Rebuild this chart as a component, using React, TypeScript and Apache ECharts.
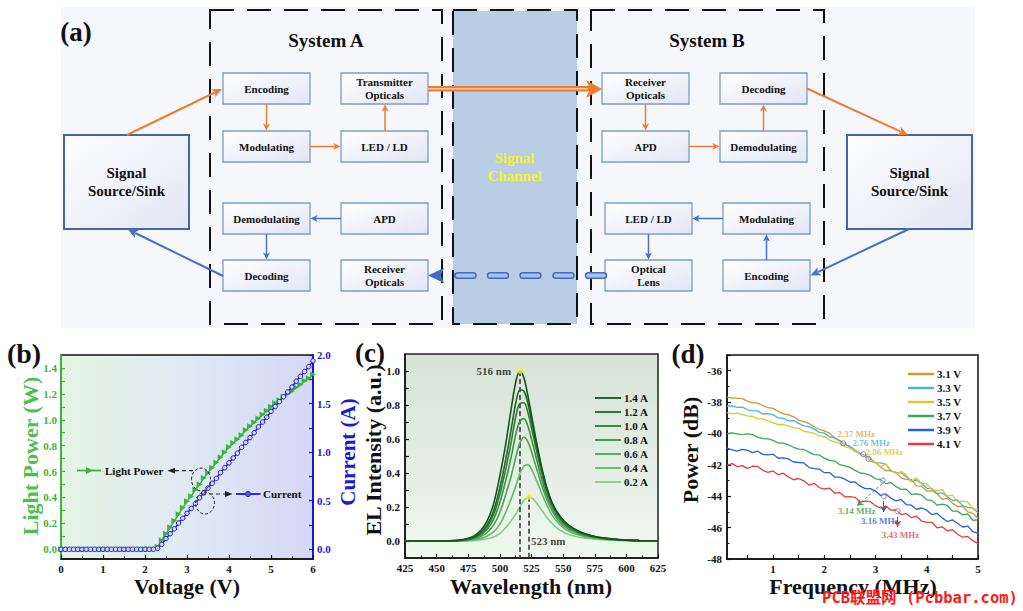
import React, { useEffect, useRef } from "react";
import * as echarts from "echarts";

const FONT = '"Liberation Serif", "Times New Roman", serif';

// ---------- panel (b) data ----------
const VOLT = [0,0.1,0.2,0.3,0.4,0.5,0.6,0.7,0.8,0.9,1.0,1.1,1.2,1.3,1.4,1.5,1.6,1.7,1.8,1.9,2.0,2.1,2.2,2.3,2.4,2.5,2.6,2.7,2.8,2.9,3.0,3.1,3.2,3.3,3.4,3.5,3.6,3.7,3.8,3.9,4.0,4.1,4.2,4.3,4.4,4.5,4.6,4.7,4.8,4.9,5.0,5.1,5.2,5.3,5.4,5.5,5.6,5.7,5.8,5.9,6.0];
const LIGHT_POWER = [0,0,0,0,0,0,0,0,0,0,0,0,0,0,0,0,0,0,0,0,0,0,0,0.02,0.07,0.12,0.17,0.22,0.27,0.32,0.37,0.41,0.46,0.50,0.55,0.59,0.63,0.67,0.71,0.75,0.79,0.82,0.85,0.88,0.92,0.95,0.98,1.01,1.04,1.07,1.10,1.13,1.15,1.18,1.20,1.22,1.25,1.27,1.30,1.32,1.35];
const CURRENT = [0,0,0,0,0,0,0,0,0,0,0,0,0,0,0,0,0,0,0,0,0,0,0,0.01,0.05,0.11,0.16,0.21,0.27,0.32,0.37,0.42,0.47,0.53,0.58,0.63,0.68,0.73,0.79,0.84,0.89,0.94,0.99,1.05,1.10,1.15,1.20,1.26,1.31,1.36,1.42,1.47,1.52,1.57,1.62,1.67,1.73,1.78,1.83,1.88,1.94];
const B_LEFT_LABELS = [0,0.2,0.4,0.6,0.8,1.0,1.2,1.4];
const B_LEFT_TICKS = [0,0.1,0.2,0.3,0.4,0.5,0.6,0.7,0.8,0.9,1.0,1.1,1.2,1.3,1.4];
const B_RIGHT_LABELS = [0,0.5,1.0,1.5,2.0];
const B_RIGHT_TICKS = [0,0.25,0.5,0.75,1.0,1.25,1.5,1.75,2.0];

// ---------- panel (c) data ----------
const WL = [425,440,455,465,470,475,480,485,490,495,500,505,509,513,516,519,522,525,529,533,537,541,545,550,555,560,565,570,575,580,590,600,610,625];
const C_NAMES = ["1.4 A","1.2 A","1.0 A","0.8 A","0.6 A","0.4 A","0.2 A"];
const EL_14 = [0,0,0,0.003,0.007,0.016,0.032,0.063,0.118,0.218,0.384,0.588,0.78,0.95,1.0,0.96,0.86,0.74,0.58,0.436,0.318,0.23,0.174,0.124,0.091,0.067,0.049,0.036,0.027,0.02,0.011,0.005,0.002,0];
const EL_12 = [0,0,0,0.002,0.005,0.013,0.025,0.051,0.096,0.177,0.315,0.494,0.66,0.828,0.89,0.881,0.815,0.706,0.561,0.424,0.308,0.228,0.17,0.12,0.088,0.065,0.048,0.035,0.026,0.019,0.01,0.005,0.002,0];
const EL_10 = [0,0,0,0.002,0.005,0.011,0.022,0.043,0.083,0.154,0.274,0.436,0.585,0.747,0.81,0.813,0.76,0.664,0.531,0.402,0.295,0.218,0.162,0.114,0.083,0.061,0.045,0.033,0.025,0.018,0.01,0.005,0.002,0];
const EL_08 = [0,0,0,0.001,0.004,0.009,0.018,0.036,0.069,0.127,0.227,0.368,0.496,0.642,0.706,0.72,0.679,0.599,0.482,0.365,0.269,0.2,0.147,0.104,0.075,0.056,0.041,0.03,0.022,0.017,0.009,0.005,0.002,0];
const EL_06 = [0,0,0,0.001,0.002,0.006,0.013,0.026,0.05,0.093,0.168,0.282,0.384,0.506,0.58,0.61,0.586,0.525,0.427,0.329,0.246,0.181,0.132,0.092,0.066,0.049,0.036,0.027,0.02,0.015,0.007,0.004,0.002,0];
const EL_04 = [0,0,0,0,0.001,0.003,0.007,0.015,0.029,0.054,0.099,0.175,0.248,0.332,0.4,0.44,0.449,0.423,0.355,0.282,0.213,0.155,0.115,0.079,0.056,0.041,0.03,0.022,0.016,0.012,0.006,0.003,0.001,0];
const EL_02 = [0,0,0,0,0,0.001,0.003,0.007,0.013,0.024,0.045,0.081,0.12,0.164,0.203,0.238,0.256,0.253,0.224,0.182,0.14,0.105,0.077,0.053,0.037,0.027,0.02,0.015,0.011,0.008,0.004,0.002,0.001,0];
const EL_ALL = [EL_14, EL_12, EL_10, EL_08, EL_06, EL_04, EL_02];
const C_COLORS = ["#15521f","#21672c","#2c7c38","#3a9145","#4ca454","#64b868","#86cd86"];
const C_Y_LABELS = [0,0.2,0.4,0.6,0.8,1.0];
const C_Y_TICKS = [0,0.1,0.2,0.3,0.4,0.5,0.6,0.7,0.8,0.9,1.0];

// ---------- panel (d) data ----------
const FREQ = [0.1,0.2,0.3,0.4,0.5,0.6,0.7,0.8,0.9,1.0,1.1,1.2,1.3,1.4,1.5,1.6,1.7,1.8,1.9,2.0,2.1,2.2,2.3,2.4,2.5,2.6,2.7,2.8,2.9,3.0,3.1,3.2,3.3,3.4,3.5,3.6,3.7,3.8,3.9,4.0,4.1,4.2,4.3,4.4,4.5,4.6,4.7,4.8,4.9,5.0];
const D_NAMES = ["3.1 V","3.3 V","3.5 V","3.7 V","3.9 V","4.1 V"];
const P_31 = [-37.68,-37.75,-37.75,-37.78,-37.94,-38.04,-38.07,-38.22,-38.36,-38.40,-38.59,-38.75,-38.82,-38.94,-39.15,-39.24,-39.36,-39.57,-39.73,-39.83,-39.98,-40.26,-40.45,-40.63,-40.90,-41.15,-41.26,-41.49,-41.75,-41.87,-42.14,-42.38,-42.36,-42.48,-42.83,-42.94,-42.94,-43.34,-43.36,-43.68,-43.65,-43.84,-44.20,-44.13,-44.44,-44.66,-44.64,-45.00,-45.10,-45.40];
const P_33 = [-38.25,-38.24,-38.34,-38.32,-38.49,-38.55,-38.56,-38.76,-38.74,-38.81,-39.01,-39.03,-39.20,-39.18,-39.36,-39.52,-39.56,-39.71,-39.93,-39.98,-40.21,-40.28,-40.50,-40.71,-40.80,-41.06,-41.28,-41.38,-41.59,-41.86,-41.87,-41.97,-42.40,-42.50,-42.51,-42.76,-43.07,-42.96,-43.21,-43.49,-43.50,-43.84,-43.79,-44.04,-44.26,-44.24,-44.61,-44.71,-44.75,-45.06];
const P_35 = [-38.67,-38.74,-38.71,-38.80,-38.88,-38.92,-39.07,-39.07,-39.20,-39.32,-39.43,-39.43,-39.52,-39.65,-39.66,-39.87,-39.91,-40.00,-40.16,-40.20,-40.42,-40.54,-40.63,-40.85,-40.93,-41.07,-41.36,-41.48,-41.69,-41.82,-42.11,-41.95,-42.33,-42.56,-42.43,-42.64,-43.03,-42.85,-43.18,-43.21,-43.57,-43.66,-43.57,-43.99,-43.93,-44.36,-44.31,-44.38,-44.81,-44.82];
const P_37 = [-40.03,-39.96,-40.02,-40.08,-40.03,-40.07,-40.23,-40.33,-40.34,-40.44,-40.61,-40.61,-40.73,-40.88,-41.00,-41.02,-41.19,-41.35,-41.37,-41.57,-41.71,-41.76,-41.99,-42.06,-42.16,-42.35,-42.52,-42.56,-42.67,-42.89,-42.94,-43.21,-43.12,-43.39,-43.56,-43.55,-43.88,-43.85,-43.92,-44.23,-44.27,-44.57,-44.51,-44.59,-44.95,-44.95,-45.19,-45.13,-45.53,-45.51];
const P_39 = [-40.94,-41.05,-41.12,-41.02,-41.08,-41.22,-41.13,-41.33,-41.36,-41.32,-41.58,-41.55,-41.62,-41.82,-41.85,-41.88,-42.17,-42.24,-42.27,-42.50,-42.49,-42.78,-42.78,-42.91,-43.11,-43.09,-43.36,-43.52,-43.51,-43.67,-43.95,-43.86,-44.13,-44.30,-44.21,-44.53,-44.57,-44.83,-44.75,-44.89,-45.18,-45.09,-45.38,-45.61,-45.50,-45.72,-45.96,-45.90,-46.26,-46.36];
const P_41 = [-42.04,-41.92,-42.11,-42.05,-42.22,-42.09,-42.10,-42.35,-42.48,-42.39,-42.63,-42.53,-42.77,-42.95,-42.87,-43.02,-43.29,-43.18,-43.45,-43.54,-43.49,-43.80,-43.77,-44.04,-44.03,-44.07,-44.37,-44.31,-44.35,-44.61,-44.75,-44.63,-44.89,-44.87,-45.17,-45.11,-45.37,-45.27,-45.59,-45.67,-45.67,-46.01,-45.95,-46.21,-46.13,-46.42,-46.61,-46.56,-46.83,-47.02];
const P_ALL = [P_31, P_33, P_35, P_37, P_39, P_41];
const D_COLORS = ["#c99a3a","#45b8d5","#e3c42d","#3aa85c","#2564d0","#de4040"];
const CUTOFF_F = [2.37, 2.76, 2.86, 3.14, 3.16, 3.43];
const CUTOFF_P = [-40.63, -41.32, -41.62, -43.0, -44.0, -44.95];
const CUTOFF_LABELS = ["2.37 MHz","2.76 MHz","2.86 MHz","3.14 MHz","3.16 MHz","3.43 MHz"];
const CUTOFF_COLORS = ["#d4a64a","#46b6d6","#dcc030","#3a9a5a","#2463c4","#d84848"];
const D_X_LABELS = [1,2,3,4,5];
const D_X_TICKS = [0.5,1,1.5,2,2.5,3,3.5,4,4.5,5];
const D_Y_LABELS = [-48,-46,-44,-42,-40,-38,-36];

// ---------- panel (a) diagram ----------
const BOXES = [
  { x: 223, y: 73, t: "Encoding" }, { x: 341, y: 73, t: "Transmitter\nOpticals" },
  { x: 223, y: 131, t: "Modulating" }, { x: 341, y: 131, t: "LED / LD" },
  { x: 223, y: 203, t: "Demodulating" }, { x: 341, y: 203, t: "APD" },
  { x: 223, y: 260, t: "Decoding" }, { x: 341, y: 260, t: "Receiver\nOpticals" },
  { x: 602, y: 73, t: "Receiver\nOpticals" }, { x: 720, y: 73, t: "Decoding" },
  { x: 602, y: 131, t: "APD" }, { x: 720, y: 131, t: "Demodulating" },
  { x: 605, y: 203, t: "LED / LD" }, { x: 723, y: 203, t: "Modulating" },
  { x: 605, y: 260, t: "Optical\nLens" }, { x: 723, y: 260, t: "Encoding" },
];
const OR = "#ed7d31";
const BL = "#4472c4";
const ARROWS: any[] = [
  [127, 135, 222, 89, OR, 2, 10, 4.5],
  [266.5, 104, 266.5, 130.5, OR, 1.5, 7, 3.5],
  [310, 146.5, 340.5, 146.5, OR, 1.5, 7, 3.5],
  [385, 131, 385, 104.5, OR, 1.5, 7, 3.5],
  [645.5, 104, 645.5, 130.5, OR, 1.5, 7, 3.5],
  [689, 146.5, 719.5, 146.5, OR, 1.5, 7, 3.5],
  [763.5, 131, 763.5, 104.5, OR, 1.5, 7, 3.5],
  [807, 88.5, 908, 135, OR, 2, 10, 4.5],
  [909, 229, 810.5, 275.5, BL, 2, 10, 4.5],
  [766.5, 260, 766.5, 234.5, BL, 1.5, 7, 3.5],
  [723, 218.5, 692.5, 218.5, BL, 1.5, 7, 3.5],
  [648.5, 234, 648.5, 259.5, BL, 1.5, 7, 3.5],
  [341, 218.5, 310.5, 218.5, BL, 1.5, 7, 3.5],
  [266.5, 234, 266.5, 259.5, BL, 1.5, 7, 3.5],
  [223, 276, 128, 229.5, BL, 2, 10, 4.5],
];

function arrow(x1: number, y1: number, x2: number, y2: number, color: string, w: number, hl: number, hw: number) {
  const dx = x2 - x1, dy = y2 - y1;
  const L = Math.hypot(dx, dy);
  const ux = dx / L, uy = dy / L;
  const bx = x2 - ux * hl, by = y2 - uy * hl;
  return [
    { type: "line", z: 50, shape: { x1, y1, x2: bx + ux * 2, y2: by + uy * 2 }, style: { stroke: color, lineWidth: w } },
    {
      type: "polygon", z: 51,
      shape: { points: [[x2, y2], [bx - uy * hw, by + ux * hw], [bx + ux * hl * 0.25, by + uy * hl * 0.25], [bx + uy * hw, by - ux * hw]] },
      style: { fill: color },
    },
  ];
}

function txt(x: number, y: number, text: string, size: number, o: any = {}) {
  return {
    type: "text", z: 100, x, y, rotation: o.rotation || 0,
    style: {
      text, fontSize: size, fontWeight: "bold", fontFamily: o.family || FONT,
      fill: o.fill || "#111", align: o.align || "center", verticalAlign: "middle",
      lineHeight: o.lineHeight || size,
    },
  };
}

function buildGraphic() {
  const g: any[] = [];
  // panel (a) background
  g.push({ type: "rect", z: 1, shape: { x: 61, y: 7, width: 914, height: 321 }, style: { fill: "#f6f7fa" } });
  // signal channel
  g.push({ type: "rect", z: 2, shape: { x: 453, y: 11, width: 124, height: 313 }, style: { fill: "#b9cde5" } });
  const dash = { stroke: "#111", lineWidth: 2, lineDash: [24, 13], fill: "none" };
  g.push({ type: "rect", z: 3, shape: { x: 210, y: 10, width: 232, height: 314 }, style: dash });
  g.push({ type: "rect", z: 3, shape: { x: 453, y: 10, width: 124, height: 314 }, style: dash });
  g.push({ type: "rect", z: 3, shape: { x: 591, y: 10, width: 233, height: 314 }, style: dash });
  g.push(txt(514.5, 167, "Signal\nChannel", 15, { fill: "#f3f337", lineHeight: 18.5 }));
  g.push(txt(326, 40, "System A", 19));
  g.push(txt(707, 40, "System B", 19));
  g.push(txt(76, 32, "(a)", 27));
  const boxFill = { type: "linear", x: 0, y: 0, x2: 1, y2: 1, colorStops: [{ offset: 0, color: "#ffffff" }, { offset: 1, color: "#e2e6f5" }] };
  for (const b of BOXES) {
    g.push({ type: "rect", z: 20, shape: { x: b.x, y: b.y, width: 87, height: 31 }, style: { fill: boxFill, stroke: "#7d9aca", lineWidth: 1.3 } });
    g.push(txt(b.x + 43.5, b.y + 15.5, b.t, 11, { lineHeight: 13.5 }));
  }
  for (const bx of [64, 847]) {
    g.push({ type: "rect", z: 20, shape: { x: bx, y: 135, width: 125, height: 94 }, style: { fill: boxFill, stroke: "#4267ad", lineWidth: 2 } });
    g.push(txt(bx + 62.5, 182, "Signal\nSource/Sink", 15, { lineHeight: 18.5 }));
  }
  for (const a of ARROWS) g.push(...arrow(a[0], a[1], a[2], a[3], a[4], a[5], a[6], a[7]));
  // optical link A -> B (orange double line)
  g.push({ type: "line", z: 30, shape: { x1: 428, y1: 88.8, x2: 590, y2: 88.8 }, style: { stroke: OR, lineWidth: 5.5 } });
  g.push({ type: "line", z: 31, shape: { x1: 428, y1: 88.8, x2: 588, y2: 88.8 }, style: { stroke: "#f8c8a2", lineWidth: 1.5 } });
  g.push({ type: "polygon", z: 32, shape: { points: [[602, 89], [586, 80], [590, 89], [586, 98]] }, style: { fill: OR } });
  // optical link B -> A (blue capsules)
  for (const cx of [455, 487.5, 520, 553, 585.5]) {
    g.push({ type: "rect", z: 30, shape: { x: cx, y: 272.7, width: 21, height: 5.6, r: 2.8 }, style: { fill: "#a9c1ea", stroke: "#3f6cc2", lineWidth: 1.5 } });
  }
  g.push({ type: "polygon", z: 32, shape: { points: [[428, 275.5], [444, 268], [441, 275.5], [444, 283]] }, style: { fill: "#3f6cc2" } });

  // ---- panel (b) annotations ----
  g.push({ type: "line", z: 100, shape: { x1: 77, y1: 470.5, x2: 101, y2: 470.5 }, style: { stroke: "#3cb43c", lineWidth: 1.8 } });
  g.push({ type: "polygon", z: 101, shape: { points: [[86, 467], [86, 474], [93, 470.5]] }, style: { fill: "#3cb43c" } });
  g.push(txt(105, 470.5, "Light Power", 11, { align: "left" }));
  g.push({ type: "line", z: 100, shape: { x1: 193, y1: 470.7, x2: 174, y2: 470.7 }, style: { stroke: "#222", lineWidth: 1.2, lineDash: [4, 3] } });
  g.push({ type: "polygon", z: 100, shape: { points: [[167.5, 470.7], [175, 467.8], [175, 473.6]] }, style: { fill: "#222" } });
  g.push({ type: "ellipse", z: 100, shape: { cx: 201, cy: 479.5, rx: 9.5, ry: 11.5 }, style: { fill: "none", stroke: "#222", lineWidth: 1, lineDash: [3, 2] } });
  g.push({ type: "ellipse", z: 100, shape: { cx: 205, cy: 503, rx: 9.5, ry: 11 }, style: { fill: "none", stroke: "#222", lineWidth: 1, lineDash: [3, 2] } });
  g.push({ type: "line", z: 100, shape: { x1: 202, y1: 494, x2: 225, y2: 494 }, style: { stroke: "#222", lineWidth: 1.2, lineDash: [4, 3] } });
  g.push({ type: "polygon", z: 100, shape: { points: [[232.5, 494], [225, 491.1], [225, 496.9]] }, style: { fill: "#222" } });
  g.push({ type: "line", z: 100, shape: { x1: 236, y1: 494, x2: 260.5, y2: 494 }, style: { stroke: "#1a1acc", lineWidth: 1.8 } });
  g.push({ type: "circle", z: 101, shape: { cx: 248, cy: 494, r: 2.6 }, style: { fill: "#5a5ae6", stroke: "#1a1acc", lineWidth: 1 } });
  g.push(txt(263, 494, "Current", 11, { align: "left" }));

  // ---- axis titles & panel labels ----
  g.push(txt(24, 353, "(b)", 28));
  g.push(txt(370, 353, "(c)", 27));
  g.push(txt(688, 354, "(d)", 27));
  g.push(txt(187, 586, "Voltage (V)", 22));
  g.push(txt(30, 456, "Light Power (W)", 22, { rotation: Math.PI / 2, fill: "#4cbf4c" }));
  g.push(txt(348, 452, "Current (A)", 21, { rotation: Math.PI / 2, fill: "#1a1ad2" }));
  g.push(txt(531, 586, "Wavelength (nm)", 22));
  g.push(txt(373, 450, "EL Intensity (a.u.)", 22, { rotation: Math.PI / 2 }));
  g.push(txt(853, 586, "Frequency (MHz)", 22));
  g.push(txt(690, 450, "Power (dB)", 22, { rotation: Math.PI / 2 }));

  // ---- legends (c), (d) ----
  C_NAMES.forEach((n, i) => {
    const y = 398 + i * 14;
    g.push({ type: "line", z: 100, shape: { x1: 595, y1: y, x2: 621, y2: y }, style: { stroke: C_COLORS[i], lineWidth: 1.8 } });
    g.push(txt(624, y, n, 11, { align: "left" }));
  });
  D_NAMES.forEach((n, i) => {
    const y = 374 + i * 14;
    g.push({ type: "line", z: 100, shape: { x1: 908, y1: y, x2: 934, y2: y }, style: { stroke: D_COLORS[i], lineWidth: 2.5 } });
    g.push(txt(937, y, n, 11, { align: "left" }));
  });

  // watermark
  g.push(txt(920, 598, "PCB联盟网 (Pcbbar.com)", 15.5, { fill: "#ff1a1a", family: '"DejaVu Sans Mono", "Noto Sans CJK SC", monospace' }));
  return g;
}

const axisFont = { fontFamily: FONT, fontWeight: "bold", fontSize: 11, color: "#111" };

function valueAxis(extra: any) {
  return {
    type: "value",
    splitLine: { show: false },
    axisLine: { show: true, onZero: false, lineStyle: { color: "#111", width: 1.5 } },
    axisTick: { show: true, inside: true, length: 4, lineStyle: { color: "#111", width: 1.2 } },
    axisLabel: { ...axisFont, margin: 4 },
    ...extra,
  };
}

export default function App() {
  const ref = useRef<HTMLDivElement>(null);
  useEffect(() => {
    if (!ref.current) return;
    const chart = echarts.init(ref.current, null, { renderer: "svg" });

    const gradB = new echarts.graphic.LinearGradient(0, 0, 1, 0, [
      { offset: 0, color: "#e5f5e3" },
      { offset: 0.5, color: "#dfeaf4" },
      { offset: 1, color: "#d6d6f6" },
    ]);
    const gradC = new echarts.graphic.LinearGradient(0, 0, 0, 1, [
      { offset: 0, color: "#d6e3d6" },
      { offset: 1, color: "#f0f8ef" },
    ]);

    const series: any[] = [];
    series.push({
      name: "Light Power", type: "line", xAxisIndex: 0, yAxisIndex: 0,
      data: VOLT.map((v, i) => [v, LIGHT_POWER[i]]),
      symbol: "triangle", symbolRotate: -90, symbolSize: 6, showAllSymbol: true,
      itemStyle: { color: "#3cb43c" }, lineStyle: { color: "#3cb43c", width: 1.5 }, z: 3,
    });
    series.push({
      name: "Current", type: "line", xAxisIndex: 0, yAxisIndex: 1,
      data: VOLT.map((v, i) => [v, CURRENT[i]]),
      symbol: "circle", symbolSize: 4.5, showAllSymbol: true,
      itemStyle: { color: "#d6d6ff", borderColor: "#1a1acc", borderWidth: 1 },
      lineStyle: { color: "#1a1acc", width: 1.5 }, z: 4,
    });
    EL_ALL.forEach((arr, i) => {
      series.push({
        name: C_NAMES[i], type: "line", xAxisIndex: 1, yAxisIndex: 2,
        data: WL.map((w, j) => [w, arr[j]]), showSymbol: false, smooth: 0.35,
        lineStyle: { color: C_COLORS[i], width: 1.6 }, itemStyle: { color: C_COLORS[i] }, z: 10 - i,
        markLine: i === 0 ? {
          silent: true, symbol: "none", label: { show: false },
          lineStyle: { type: [5, 3], color: "#333", width: 1.5 },
          data: [
            [{ coord: [516, 1.0] }, { coord: [516, -0.1] }],
            [{ coord: [523, 0.26] }, { coord: [523, -0.1] }],
          ],
        } : undefined,
      });
    });
    series.push({
      name: "peaks", type: "scatter", xAxisIndex: 1, yAxisIndex: 2, z: 20,
      data: [
        { value: [516, 1.0], symbolSize: 6, label: { show: true, position: "left", distance: 6, formatter: "516 nm" } },
        { value: [523, 0.26], symbolSize: 6 },
        { value: [523, 0.0], symbolSize: 0, label: { show: true, position: "right", distance: 2, formatter: "523 nm" } },
      ],
      itemStyle: { color: "#f4f42a" },
      label: { ...axisFont, fontSize: 11 },
    });
    P_ALL.forEach((arr, i) => {
      const ml: any = {};
      if (i === 3) ml.data = [[{ coord: [3.13, -43.2] }, { coord: [2.64, -44.6] }]];
      if (i === 4) ml.data = [[{ coord: [3.16, -44.3] }, { coord: [3.16, -45.0] }]];
      if (i === 5) ml.data = [[{ coord: [3.43, -45.3] }, { coord: [3.43, -45.95] }]];
      series.push({
        name: D_NAMES[i], type: "line", xAxisIndex: 2, yAxisIndex: 3,
        data: FREQ.map((f, j) => [f, arr[j]]), showSymbol: false,
        lineStyle: { color: D_COLORS[i], width: 1.3 }, itemStyle: { color: D_COLORS[i] }, z: 5 + i,
        markLine: ml.data ? {
          silent: true, symbol: ["none", "arrow"], symbolSize: 6, label: { show: false },
          lineStyle: { type: i === 3 ? [3, 2] : "solid", color: D_COLORS[i], width: 1 },
          data: ml.data,
        } : undefined,
      });
    });
    const offs = [[13, -9], [8, -11], [16, -7], [-26, 30], [-4, 25], [3, 23.5]];
    series.push({
      name: "cutoff", type: "scatter", xAxisIndex: 2, yAxisIndex: 3, z: 30,
      symbol: "circle", symbolSize: 5,
      itemStyle: { color: "rgba(255,255,255,0.4)", borderColor: "#6d5fd0", borderWidth: 1 },
      data: CUTOFF_F.map((f, i) => ({
        value: [f, CUTOFF_P[i]],
        label: {
          show: true, position: "inside", offset: offs[i], formatter: CUTOFF_LABELS[i],
          color: CUTOFF_COLORS[i], fontFamily: FONT, fontWeight: "bold", fontSize: 9,
        },
      })),
    });

    const option: any = {
      animation: false,
      backgroundColor: "#ffffff",
      grid: [
        { left: 61, top: 355, width: 252, height: 204, show: true, backgroundColor: gradB, borderColor: "#111", borderWidth: 1.5 },
        { left: 405, top: 354, width: 253, height: 204, show: true, backgroundColor: gradC, borderColor: "#222", borderWidth: 1.5 },
        { left: 727, top: 355, width: 251, height: 204, show: true, backgroundColor: "#ffffff", borderColor: "#111", borderWidth: 1.5 },
      ],
      xAxis: [
        valueAxis({ gridIndex: 0, min: 0, max: 6, interval: 1, minorTick: { show: true, splitNumber: 2, length: 2.5, lineStyle: { color: "#111" } } }),
        valueAxis({ gridIndex: 1, min: 425, max: 625, interval: 25, minorTick: { show: true, splitNumber: 2, length: 2.5, lineStyle: { color: "#111" } } }),
        valueAxis({
          gridIndex: 2, min: 0.1, max: 5,
          axisTick: { show: true, inside: true, length: 4, customValues: D_X_TICKS, lineStyle: { color: "#111", width: 1.2 } },
          axisLabel: { ...axisFont, margin: 4, customValues: D_X_LABELS },
        }),
      ],
      yAxis: [
        valueAxis({
          gridIndex: 0, min: -0.075, max: 1.5, position: "left",
          axisLine: { show: true, onZero: false, lineStyle: { color: "#3cb43c", width: 2 } },
          axisTick: { show: true, inside: true, length: 4, customValues: B_LEFT_TICKS, lineStyle: { color: "#3cb43c", width: 1.2 } },
          axisLabel: { ...axisFont, color: "#3cb43c", margin: 4, customValues: B_LEFT_LABELS, formatter: (v: number) => v.toFixed(1) },
        }),
        valueAxis({
          gridIndex: 0, min: -0.1, max: 2.0, position: "right",
          axisLine: { show: true, onZero: false, lineStyle: { color: "#1a1acc", width: 2 } },
          axisTick: { show: true, inside: true, length: 4, customValues: B_RIGHT_TICKS, lineStyle: { color: "#1a1acc", width: 1.2 } },
          axisLabel: { ...axisFont, color: "#1a1acc", margin: 4, customValues: B_RIGHT_LABELS, formatter: (v: number) => v.toFixed(1) },
        }),
        valueAxis({
          gridIndex: 1, min: -0.1, max: 1.1,
          axisTick: { show: true, inside: true, length: 4, customValues: C_Y_TICKS, lineStyle: { color: "#111", width: 1.2 } },
          axisLabel: { ...axisFont, margin: 5, customValues: C_Y_LABELS, formatter: (v: number) => v.toFixed(1) },
        }),
        valueAxis({
          gridIndex: 2, min: -48, max: -35, interval: 2,
          minorTick: { show: true, splitNumber: 2, length: 2.5, lineStyle: { color: "#111" } },
          axisLabel: { ...axisFont, margin: 5, customValues: D_Y_LABELS },
        }),
      ],
      series,
      graphic: { elements: buildGraphic() },
    };
    chart.setOption(option);
    return () => chart.dispose();
  }, []);

  return (
    <div
      ref={ref}
      style={{ position: "absolute", left: 0, top: 0, width: 1023, height: 611, background: "#fff" }}
    />
  );
}
